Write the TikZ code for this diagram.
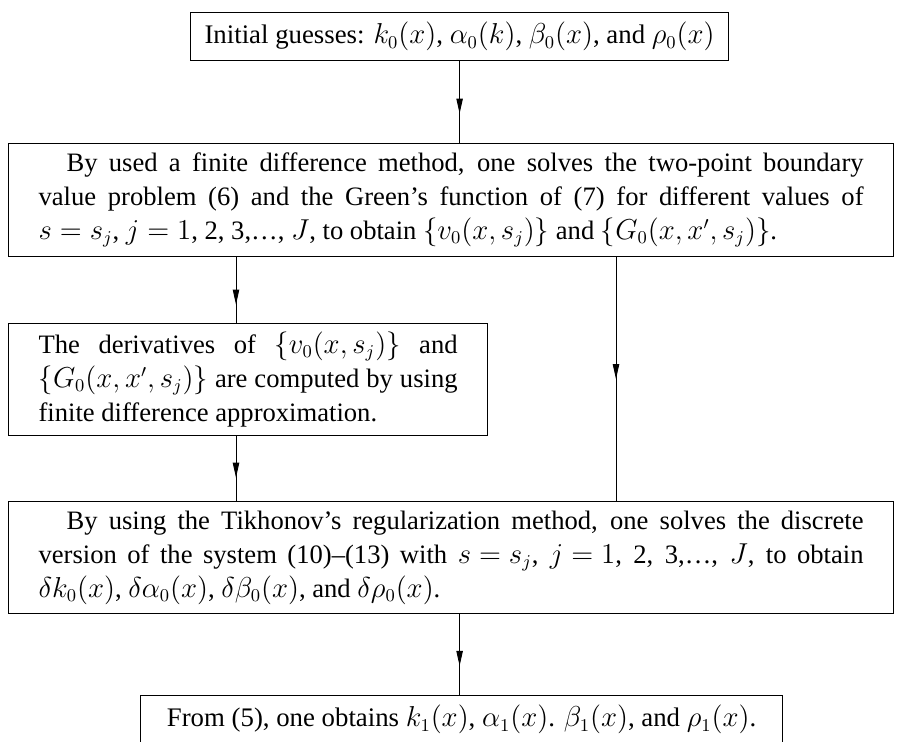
\documentclass[tikz,border=0pt]{standalone}
\usepackage{fontspec}
\setmainfont{Liberation Serif}
\usetikzlibrary{arrows.meta,decorations.markings,calc}
\thickmuskip=5mu
\medmuskip=4mu
\begin{document}
\begin{tikzpicture}[x=0.5pt,y=-0.5pt,
  box/.style={draw, line width=0.6pt, inner xsep=15pt, inner ysep=0pt, anchor=north west,
    font=\fontsize{13.3}{17}\selectfont, align=justify},
  onebox/.style={box, align=center, inner xsep=0pt, font=\fontsize{13.4}{17}\selectfont},
  conn/.style={line width=0.45pt},
  midarrow/.style={postaction={decorate}, decoration={markings,
    mark=at position #1 with {\arrow{Triangle[length=7.5pt,width=3.2pt]}}}}]
\clip (0,0) rectangle (898,741);
\node[onebox, minimum width=269pt, minimum height=24pt] (top) at (190,12)
  {Initial guesses: $k_0(x)$, $\alpha_0(k)$, $\beta_0(x)$, and $\rho_0(x)$};
\node[box, text width=412.5pt, minimum height=56.5pt] (b2) at (8,143)
  {\hspace*{14pt}By used a finite difference method, one solves the two-point boundary\linebreak
   value problem (6) and the Green's function of (7) for different values of\linebreak
   $s=s_j$, $j=1$, 2, 3,\ldots, $J$, to obtain $\{v_0(x,s_j)\}$ and $\{G_0(x,x',s_j)\}$.};
\node[box, text width=209.5pt, minimum height=56pt] (b3) at (8,323)
  {The derivatives of $\{v_0(x,s_j)\}$ and\linebreak
   $\{G_0(x,x',s_j)\}$ are computed by using\linebreak
   finite difference approximation.};
\node[box, text width=412.5pt, minimum height=56pt] (b4) at (8,501)
  {\hspace*{14pt}By using the Tikhonov's regularization method, one solves the discrete\linebreak
   version of the system (10)--(13) with $s=s_j$, $j=1$, 2, 3,\ldots, $J$, to obtain\linebreak
   $\delta k_0(x)$, $\delta\alpha_0(x)$, $\delta\beta_0(x)$, and $\delta\rho_0(x)$.};
\node[onebox, minimum width=321pt, minimum height=24pt] (b5) at (140,695)
  {From (5), one obtains $k_1(x)$, $\alpha_1(x)$. $\beta_1(x)$, and $\rho_1(x)$.};
\coordinate (xl) at (236,0);
\coordinate (xr) at (616,0);
\draw[conn, midarrow=0.64] (top.south) -- (top.south |- b2.north);
\draw[conn, midarrow=0.72] (b2.south -| xl) -- (b3.north -| xl);
\draw[conn, midarrow=0.64] (b3.south -| xl) -- (b4.north -| xl);
\draw[conn, midarrow=0.5] (b2.south -| xr) -- (b4.north -| xr);
\draw[conn, midarrow=0.64] (top.south |- b4.south) -- (top.south |- b5.north);
\end{tikzpicture}
\end{document}
